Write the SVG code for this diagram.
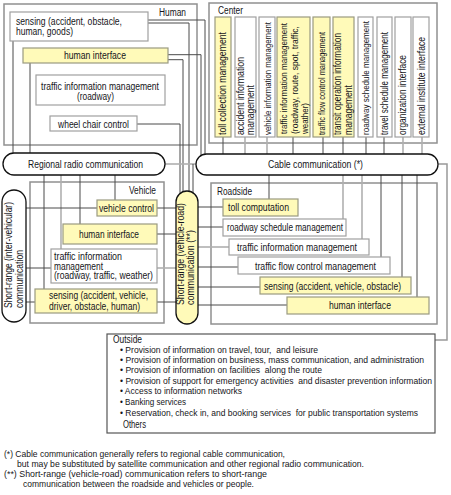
<svg xmlns="http://www.w3.org/2000/svg" width="451" height="495" viewBox="0 0 451 495">
<style>
.grp{fill:#fff;stroke:#909090;stroke-width:1.5}
.wb{fill:#fff;stroke:#a0a0a0;stroke-width:1.2}
.yb{fill:#fffab9;stroke:#9a9a80;stroke-width:1.2}
.cap{fill:#fff;stroke:#111;stroke-width:1.3}
.capy{fill:#fffab9;stroke:#111;stroke-width:1.3}
.out{fill:#fff;stroke:#555;stroke-width:1.2}
text{font-family:"Liberation Sans",Arial,sans-serif;font-size:10px;fill:#151520}
.s9{font-size:9px}
.s8{font-size:8.2px}
.fn{font-size:9.2px}
.ol{font-size:8.6px}
.c{fill:none;stroke:#4a4a4a;stroke-width:1}
.cl{fill:none;stroke:#b0b0b0;stroke-width:1.6}
.cm{fill:none;stroke:#999;stroke-width:1.5}
</style>
<rect width="451" height="495" fill="#fff"/>

<!-- group boxes -->
<g id="human">
<rect class="grp" x="4" y="4" width="193" height="141"/>
<text x="159" y="16" textLength="27" lengthAdjust="spacingAndGlyphs">Human</text>
</g>
<g id="center">
<rect class="grp" x="209" y="3" width="228" height="140"/>
<text x="218" y="14" textLength="25" lengthAdjust="spacingAndGlyphs">Center</text>
</g>
<g id="vehicle">
<rect class="grp" x="30" y="182" width="134" height="141"/>
<text x="129" y="193.5" textLength="27" lengthAdjust="spacingAndGlyphs">Vehicle</text>
</g>
<g id="roadside">
<rect class="grp" x="211" y="183" width="226" height="141"/>
<text x="217" y="195" textLength="35" lengthAdjust="spacingAndGlyphs">Roadside</text>
</g>

<!-- connectors -->
<g id="connectors">
<!-- Human -->
<polyline class="c" points="148,20 205,20 205,155"/>
<polyline class="c" points="148,23 189,23 189,192"/>
<polyline class="c" points="168,54.7 201,54.7 201,156"/>
<polyline class="c" points="168,59.7 183,59.7 183,193"/>
<polyline class="c" points="137,124 180,124 180,194"/>
<line class="c" x1="13" y1="41" x2="13" y2="153"/>
<line class="c" x1="30" y1="63" x2="30" y2="153"/>
<line class="cl" x1="165" y1="164" x2="196" y2="164"/>
<line class="c" x1="193" y1="164" x2="193" y2="193"/>
<!-- Center -->
<line class="c" x1="223" y1="137" x2="223" y2="154"/>
<line class="cl" x1="245" y1="137" x2="245" y2="154"/>
<line class="cl" x1="267" y1="137" x2="267" y2="154"/>
<line class="c" x1="293" y1="137" x2="293" y2="154"/>
<line class="c" x1="323" y1="137" x2="323" y2="154"/>
<line class="c" x1="343" y1="137" x2="343" y2="154"/>
<line class="c" x1="366" y1="137" x2="366" y2="154"/>
<line class="c" x1="384" y1="137" x2="384" y2="154"/>
<line class="cl" x1="403" y1="137" x2="403" y2="154"/>
<line class="cl" x1="422" y1="137" x2="422" y2="154"/>
<!-- cable to outside -->
<polyline class="cm" points="438,164 447,164 447,340 435,340"/>
<!-- Vehicle -->
<line class="c" x1="44" y1="175" x2="44" y2="289"/>
<line class="cl" x1="61" y1="175" x2="61" y2="249"/>
<line class="c" x1="80" y1="175" x2="80" y2="224"/>
<line class="c" x1="115" y1="175" x2="115" y2="200"/>
<line class="c" x1="26" y1="208" x2="97" y2="208"/>
<line class="c" x1="26" y1="268" x2="51" y2="268"/>
<line class="c" x1="26" y1="302" x2="35" y2="302"/>
<line class="c" x1="157" y1="208" x2="176" y2="208"/>
<line class="c" x1="157" y1="234" x2="176" y2="234"/>
<line class="cl" x1="157" y1="268" x2="176" y2="268"/>
<line class="c" x1="157" y1="302" x2="176" y2="302"/>
<!-- Roadside -->
<line class="c" x1="198" y1="207" x2="223" y2="207"/>
<line class="c" x1="198" y1="227" x2="223" y2="227"/>
<line class="cl" x1="198" y1="247" x2="229" y2="247"/>
<line class="c" x1="198" y1="267" x2="238" y2="267"/>
<line class="c" x1="198" y1="287" x2="260" y2="287"/>
<line class="c" x1="198" y1="305" x2="287" y2="305"/>
<line class="c" x1="269" y1="175" x2="269" y2="199"/>
<line class="cl" x1="343" y1="175" x2="343" y2="219"/>
<line class="cl" x1="362" y1="175" x2="362" y2="239"/>
<line class="c" x1="381" y1="175" x2="381" y2="257"/>
<line class="c" x1="402" y1="175" x2="402" y2="277"/>
<line class="c" x1="417" y1="175" x2="417" y2="297"/>
</g>

<!-- Human nodes -->
<g id="h-sensing">
<rect class="wb" x="10" y="12" width="138" height="29"/>
<text x="16" y="25" textLength="106" lengthAdjust="spacingAndGlyphs">sensing (accident, obstacle,</text>
<text x="16" y="34.5" textLength="57" lengthAdjust="spacingAndGlyphs">human, goods)</text>
</g>
<g id="h-hi">
<rect class="yb" x="23" y="48" width="145" height="15"/>
<text x="64" y="58.5" textLength="62" lengthAdjust="spacingAndGlyphs">human interface</text>
</g>
<g id="h-tim">
<rect class="wb" x="36" y="75" width="129" height="30"/>
<text x="41" y="89.5" textLength="118" lengthAdjust="spacingAndGlyphs">traffic information management</text>
<text x="77" y="99.5" textLength="37" lengthAdjust="spacingAndGlyphs">(roadway)</text>
</g>
<g id="h-wheel">
<rect class="wb" x="50" y="116" width="87" height="15"/>
<text x="58" y="127.5" textLength="71" lengthAdjust="spacingAndGlyphs">wheel chair control</text>
</g>

<!-- Center nodes -->
<g id="c-toll">
<rect class="yb" x="215" y="17" width="16" height="120"/>
<text transform="translate(226,135) rotate(-90)" textLength="103" lengthAdjust="spacingAndGlyphs">toll collection management</text>
</g>
<g id="c-accident">
<rect class="wb" x="235" y="17" width="21" height="120"/>
<text transform="translate(243.5,135) rotate(-90)" textLength="78" lengthAdjust="spacingAndGlyphs">accident information</text>
<text transform="translate(253.5,135) rotate(-90)" textLength="50" lengthAdjust="spacingAndGlyphs">management</text>
</g>
<g id="c-vehicle">
<rect class="wb" x="259" y="17" width="16" height="120"/>
<text class="s8" transform="translate(270.5,135) rotate(-90)" textLength="113" lengthAdjust="spacingAndGlyphs">vehicle information management</text>
</g>
<g id="c-traffic">
<rect class="yb" x="277" y="17" width="33" height="120"/>
<text class="s8" transform="translate(287.3,134) rotate(-90)" textLength="111" lengthAdjust="spacingAndGlyphs">traffic information management</text>
<text class="s8" transform="translate(297.8,134) rotate(-90)" textLength="108" lengthAdjust="spacingAndGlyphs">(roadway, route, spot, traffic,</text>
<text class="s8" transform="translate(308,134) rotate(-90)" textLength="31" lengthAdjust="spacingAndGlyphs">weather)</text>
</g>
<g id="c-flow">
<rect class="yb" x="313" y="17" width="17" height="120"/>
<text class="s9" transform="translate(325,135) rotate(-90)" textLength="103" lengthAdjust="spacingAndGlyphs">traffic flow control management</text>
</g>
<g id="c-transit">
<rect class="yb" x="333" y="17" width="21" height="120"/>
<text transform="translate(340.8,135) rotate(-90)" textLength="102" lengthAdjust="spacingAndGlyphs">transit operation information</text>
<text transform="translate(351.8,135) rotate(-90)" textLength="50" lengthAdjust="spacingAndGlyphs">management</text>
</g>
<g id="c-roadway">
<rect class="wb" x="358" y="17" width="15" height="120"/>
<text class="s8" transform="translate(368.8,135) rotate(-90)" textLength="114" lengthAdjust="spacingAndGlyphs">roadway schedule management</text>
</g>
<g id="c-travel">
<rect class="wb" x="377" y="17" width="15" height="120"/>
<text transform="translate(387.5,135) rotate(-90)" textLength="103" lengthAdjust="spacingAndGlyphs">travel schedule management</text>
</g>
<g id="c-org">
<rect class="wb" x="395" y="17" width="16" height="120"/>
<text transform="translate(405.8,135) rotate(-90)" textLength="80" lengthAdjust="spacingAndGlyphs">organization interface</text>
</g>
<g id="c-ext">
<rect class="wb" x="413" y="17" width="16" height="120"/>
<text transform="translate(424.5,135) rotate(-90)" textLength="98" lengthAdjust="spacingAndGlyphs">external institute interface</text>
</g>

<!-- Communication capsules -->
<g id="regional-radio">
<rect class="cap" x="3" y="153" width="162" height="22" rx="11"/>
<text x="28" y="167.5" textLength="115" lengthAdjust="spacingAndGlyphs">Regional radio communication</text>
</g>
<g id="cable">
<rect class="cap" x="196" y="154" width="242" height="21" rx="10.5"/>
<text x="268" y="167.5" textLength="95" lengthAdjust="spacingAndGlyphs">Cable communication (*)</text>
</g>
<g id="short-range-iv">
<rect class="cap" x="2" y="190" width="24" height="132" rx="12"/>
<text transform="translate(11.8,308) rotate(-90)" textLength="106" lengthAdjust="spacingAndGlyphs">Short-range (inter-vehicular)</text>
<text transform="translate(22.5,308) rotate(-90)" textLength="58" lengthAdjust="spacingAndGlyphs">communication</text>
</g>
<g id="short-range-vr">
<rect class="capy" x="176" y="191" width="22" height="133" rx="11"/>
<text transform="translate(183.5,305) rotate(-90)" textLength="102" lengthAdjust="spacingAndGlyphs">Short-range (vehicle-road)</text>
<text transform="translate(194.2,305) rotate(-90)" textLength="75" lengthAdjust="spacingAndGlyphs">communication (**)</text>
</g>

<!-- Vehicle nodes -->
<g id="v-control">
<rect class="yb" x="97" y="200" width="60" height="16"/>
<text x="99" y="211.8" textLength="55" lengthAdjust="spacingAndGlyphs">vehicle control</text>
</g>
<g id="v-hi">
<rect class="yb" x="63" y="224" width="94" height="20"/>
<text x="79" y="237.8" textLength="60" lengthAdjust="spacingAndGlyphs">human interface</text>
</g>
<g id="v-tim">
<rect class="wb" x="51" y="249" width="106" height="34"/>
<text x="54" y="259.5" textLength="68" lengthAdjust="spacingAndGlyphs">traffic information</text>
<text x="54" y="269.5" textLength="49" lengthAdjust="spacingAndGlyphs">management</text>
<text x="54" y="279" textLength="99" lengthAdjust="spacingAndGlyphs">(roadway, traffic, weather)</text>
</g>
<g id="v-sensing">
<rect class="yb" x="35" y="289" width="122" height="24"/>
<text x="49" y="299" textLength="99" lengthAdjust="spacingAndGlyphs">sensing (accident, vehicle,</text>
<text x="49" y="309.5" textLength="91" lengthAdjust="spacingAndGlyphs">driver, obstacle, human)</text>
</g>

<!-- Roadside nodes -->
<g id="r-toll">
<rect class="yb" x="223" y="199" width="75" height="17"/>
<text x="228" y="210.5" textLength="61" lengthAdjust="spacingAndGlyphs">toll computation</text>
</g>
<g id="r-roadway">
<rect class="wb" x="223" y="219" width="123" height="17"/>
<text x="227" y="231" textLength="116" lengthAdjust="spacingAndGlyphs">roadway schedule management</text>
</g>
<g id="r-tim">
<rect class="wb" x="229" y="239" width="140" height="16"/>
<text x="237" y="251" textLength="120" lengthAdjust="spacingAndGlyphs">traffic information management</text>
</g>
<g id="r-flow">
<rect class="wb" x="238" y="257" width="152" height="17"/>
<text x="255" y="270" textLength="121" lengthAdjust="spacingAndGlyphs">traffic flow control management</text>
</g>
<g id="r-sensing">
<rect class="yb" x="260" y="277" width="151" height="17"/>
<text x="264" y="289.5" textLength="137" lengthAdjust="spacingAndGlyphs">sensing (accident, vehicle, obstacle)</text>
</g>
<g id="r-hi">
<rect class="yb" x="287" y="297" width="142" height="17"/>
<text x="329" y="308.5" textLength="62" lengthAdjust="spacingAndGlyphs">human interface</text>
</g>

<!-- Outside -->
<g id="outside">
<rect class="out" x="107" y="334" width="328" height="99"/>
<text x="113" y="342.5" textLength="29" lengthAdjust="spacingAndGlyphs">Outside</text>
<text class="ol" x="120" y="352.8" textLength="198" lengthAdjust="spacingAndGlyphs" style="white-space:pre">• Provision of information on travel, tour,  and leisure</text>
<text class="ol" x="120" y="362.8" textLength="304" lengthAdjust="spacingAndGlyphs">• Provision of information on business, mass communication, and administration</text>
<text class="ol" x="120" y="373" textLength="202" lengthAdjust="spacingAndGlyphs" style="white-space:pre">• Provision of information on facilities  along the route</text>
<text class="ol" x="120" y="383.5" textLength="312" lengthAdjust="spacingAndGlyphs" style="white-space:pre">• Provision of support for emergency activities  and disaster prevention information</text>
<text class="ol" x="120" y="394.2" textLength="122" lengthAdjust="spacingAndGlyphs">• Access to information networks</text>
<text class="ol" x="120" y="404.5" textLength="66" lengthAdjust="spacingAndGlyphs">• Banking services</text>
<text class="ol" x="120" y="415.8" textLength="298" lengthAdjust="spacingAndGlyphs" style="white-space:pre">• Reservation, check in, and booking services  for public transportation systems</text>
<text x="123" y="427.5" textLength="23" lengthAdjust="spacingAndGlyphs">Others</text>
</g>

<!-- footnotes -->
<g id="notes">
<text class="fn" x="4" y="457.3" textLength="281" lengthAdjust="spacingAndGlyphs">(*) Cable communication generally refers to regional cable communication,</text>
<text class="fn" x="17" y="466.8" textLength="347" lengthAdjust="spacingAndGlyphs">but may be substituted by satellite communication and other regional radio communication.</text>
<text class="fn" x="4" y="477.3" textLength="263" lengthAdjust="spacingAndGlyphs">(**) Short-range (vehicle-road) communication refers to short-range</text>
<text class="fn" x="23" y="486.8" textLength="231" lengthAdjust="spacingAndGlyphs">communication between the roadside and vehicles or people.</text>
</g>
</svg>
